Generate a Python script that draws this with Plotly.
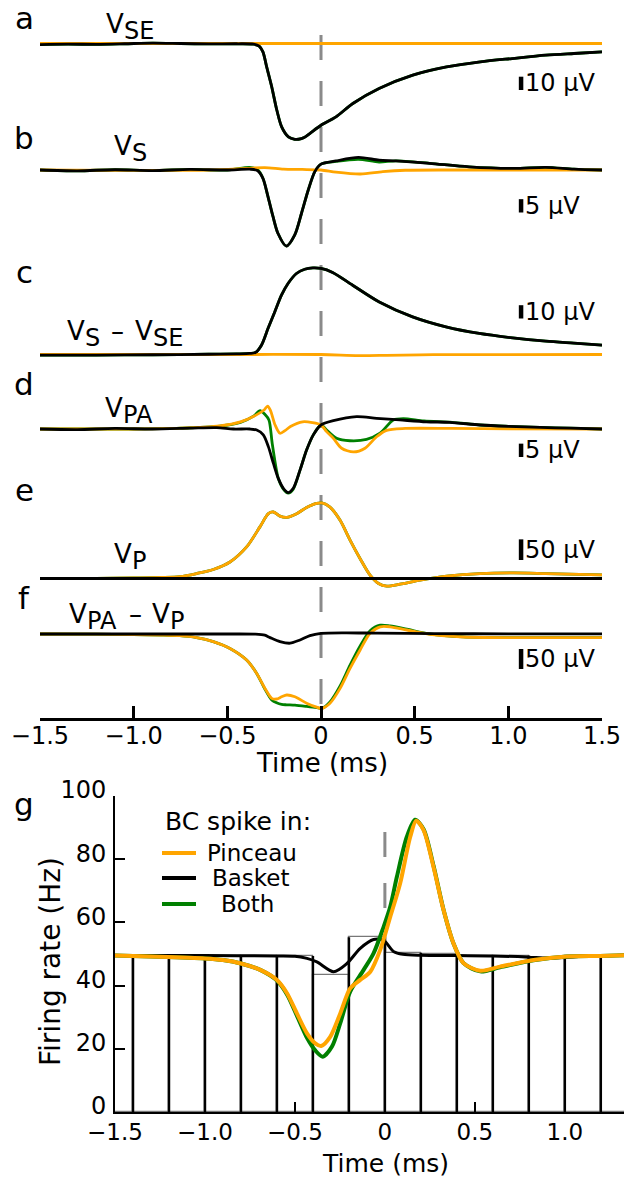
import plotly.graph_objects as go

# ---------------- DATA ----------------
# Panel a : V_SE (µV)
A_T_BASKET = [-1.5, -1.35, -1.2, -1.05, -0.9, -0.75, -0.6, -0.45, -0.36, -0.33, -0.31, -0.29, -0.263, -0.236,
              -0.21, -0.174, -0.14, -0.12, -0.09, -0.06, 0.0, 0.08, 0.17, 0.31, 0.49, 0.67, 0.85, 1.02, 1.2, 1.35, 1.5]
A_BASKET = [-0.8, -0.5, -0.6, -0.2, 0.3, 0.0, -0.3, -0.2, -0.5, -2.0, -6.3, -17.6, -32.6, -50.0,
            -62.7, -70.2, -72.0, -72.0, -70.7, -67.7, -61.5, -55.2, -45.1, -33.8, -23.8, -17.6, -13.8, -11.3, -8.8, -7.5, -6.3]
A_T_PINCEAU = [-1.5, 1.5]
A_PINCEAU = [0.0, 0.0]

# Panel b : V_S (µV)
B_T_BASKET = [-1.5, -1.3, -1.1, -0.9, -0.7, -0.5, -0.38, -0.34, -0.31, -0.283, -0.256, -0.23, -0.185, -0.14,
              -0.104, -0.068, -0.033, 0.0, 0.08, 0.2, 0.31, 0.4, 0.58, 0.79, 1.03, 1.2, 1.35, 1.5]
B_BASKET = [0.0, -0.3, 0.1, -0.2, 0.2, 0.0, 0.3, -0.2, -3.1, -10.0, -17.5, -23.7, -28.5, -24.3,
            -16.2, -7.5, -0.6, 2.2, 3.4, 4.7, 3.7, 3.4, 2.5, 1.2, 0.6, 1.0, 0.3, 0.0]
B_BOTH = [0.0, -0.3, 0.1, -0.2, 0.2, 0.0, 1.0, 0.2, -3.1, -10.0, -17.5, -23.7, -28.5, -24.3,
          -16.2, -7.5, -0.6, 2.2, 3.2, 4.0, 3.0, 3.4, 2.5, 1.2, 0.6, 1.0, 0.3, 0.0]
B_T_PINCEAU = [-1.5, -0.6, -0.4, -0.3, -0.2, -0.1, 0.0, 0.08, 0.21, 0.33, 0.45, 0.7, 1.5]
B_PINCEAU = [0.0, 0.0, 0.6, 0.9, 0.3, 0.2, 0.0, -0.8, -1.5, -0.6, -0.1, 0.0, 0.0]

# Panel c : V_S - V_SE (µV)
C_T_BASKET = [-1.5, -1.2, -0.9, -0.6, -0.45, -0.38, -0.35, -0.318, -0.283, -0.247, -0.211, -0.176, -0.131,
              -0.087, -0.043, 0.0, 0.062, 0.169, 0.311, 0.489, 0.667, 0.845, 1.023, 1.2, 1.35, 1.5]
C_BASKET = [-0.5, -0.4, -0.2, 0.2, 0.5, 0.8, 1.5, 7.0, 19.5, 32.0, 44.6, 53.4, 60.9,
            64.1, 65.1, 64.7, 61.7, 52.1, 39.5, 28.3, 20.8, 15.8, 12.5, 10.0, 8.5, 7.0]
C_T_PINCEAU = [-1.5, -0.4, 0.0, 0.2, 0.35, 0.6, 1.5]
C_PINCEAU = [0.0, 0.0, 0.0, -0.8, -0.6, -0.1, 0.0]

# Panel d : V_PA (µV)
D_T_BASKET = [-1.5, -1.3, -1.1, -0.9, -0.7, -0.557, -0.468, -0.379, -0.343, -0.308, -0.281, -0.254, -0.228,
              -0.201, -0.175, -0.148, -0.112, -0.077, -0.041, 0.0, 0.066, 0.19, 0.297, 0.42, 0.562, 0.687,
              0.85, 1.0, 1.17, 1.33, 1.5]
D_BASKET = [0.0, -0.2, 0.2, 0.0, 0.3, 0.5, 0.0, 0.0, -0.4, -2.2, -6.6, -12.9, -18.5,
            -22.2, -23.8, -22.2, -15.4, -7.9, -2.2, 1.5, 3.1, 4.6, 4.0, 3.4, 2.7, 2.5,
            1.5, 1.0, 0.6, 0.3, 0.0]
D_T_PINCEAU = [-1.5, -1.0, -0.75, -0.54, -0.43, -0.347, -0.304, -0.285, -0.27, -0.245, -0.219, -0.19, -0.163,
               -0.098, -0.046, 0.0, 0.03, 0.066, 0.11, 0.173, 0.235, 0.297, 0.35, 0.45, 0.7, 1.0, 1.5]
D_PINCEAU = [0.0, 0.0, 0.3, 1.2, 2.7, 5.2, 7.1, 8.6, 7.0, 1.5, -1.6, -0.5, 0.9,
             2.7, 2.4, 1.5, -1.0, -3.5, -7.2, -8.6, -7.2, -2.9, -0.5, 0.2, 0.2, 0.1, 0.0]
D_T_BOTH = [-1.5, -1.0, -0.75, -0.54, -0.43, -0.36, -0.325, -0.3, -0.278, -0.26, -0.228, -0.201, -0.175,
            -0.148, -0.112, -0.077, -0.041, 0.0, 0.03, 0.083, 0.154, 0.243, 0.315, 0.386, 0.44, 0.55,
            0.7, 0.85, 1.0, 1.17, 1.33, 1.5]
D_BOTH = [0.0, 0.0, 0.3, 1.1, 2.5, 4.8, 6.9, 5.5, 3.4, -5.6, -18.5, -22.5, -24.0,
          -22.5, -15.4, -7.9, -2.2, 1.5, -0.4, -3.5, -4.4, -3.9, -1.6, 3.4, 3.9, 3.0,
          2.5, 1.5, 1.0, 0.6, 0.3, 0.0]

# Panel e : V_P (µV)
E_T_PINCEAU = [-1.5, -1.2, -1.0, -0.85, -0.753, -0.664, -0.575, -0.486, -0.397, -0.326, -0.281, -0.254,
               -0.219, -0.183, -0.13, -0.077, -0.023, 0.004, 0.048, 0.102, 0.155, 0.209, 0.262, 0.307,
               0.351, 0.422, 0.529, 0.671, 0.849, 1.03, 1.2, 1.5]
E_PINCEAU = [0.0, 0.5, 1.5, 2.5, 4.5, 12.0, 21.8, 40.0, 76.5, 125.0, 157.0, 161.0,
             151.0, 148.0, 157.0, 172.0, 182.0, 183.0, 173.0, 141.0, 93.0, 48.0, 8.0, -12.0,
             -18.6, -13.8, -4.0, 5.6, 12.0, 13.6, 12.0, 8.7]
E_T_BASKET = [-1.5, 1.5]
E_BASKET = [0.0, 0.0]

# Panel f : V_PA - V_P (µV)
F_T_BASKET = [-1.5, -0.5, -0.35, -0.3, -0.272, -0.219, -0.165, -0.112, -0.059, 0.0, 0.133, 0.3, 0.6, 1.0, 1.5]
F_BASKET = [0.0, 0.0, -0.5, -3.0, -9.0, -19.0, -23.0, -15.0, -4.0, 1.7, 3.0, 2.0, 1.0, 0.5, 0.5]
F_T_PINCEAU = [-1.5, -1.2, -1.0, -0.85, -0.753, -0.664, -0.575, -0.486, -0.397, -0.344, -0.299, -0.263,
               -0.237, -0.21, -0.183, -0.139, -0.077, -0.023, 0.004, 0.048, 0.102, 0.155, 0.209, 0.262,
               0.316, 0.369, 0.458, 0.582, 0.76, 1.026, 1.5]
F_PINCEAU = [0.0, -0.5, -1.5, -2.5, -4.2, -9.0, -19.0, -36.0, -65.0, -98.0, -136.0, -161.0,
             -162.5, -157.0, -152.5, -157.0, -173.0, -183.0, -186.0, -173.0, -136.0, -86.0, -40.0, 2.0,
             18.0, 18.0, 10.0, -1.0, -7.5, -9.0, -9.0]
F_BOTH = [0.0, -0.5, -1.5, -2.5, -4.2, -9.0, -19.0, -36.0, -65.0, -98.0, -138.0, -165.0,
          -172.0, -176.0, -177.0, -178.0, -181.0, -184.0, -186.0, -170.0, -130.0, -78.0, -30.0, 8.0,
          22.0, 20.0, 12.0, 0.0, -7.0, -9.0, -9.0]

# Panel g : firing rate (Hz)
G_T_PINCEAU = [-1.5, -1.3, -1.0, -0.9, -0.8, -0.69, -0.6, -0.544, -0.489, -0.433, -0.387, -0.354, -0.304,
               -0.248, -0.193, -0.137, -0.081, -0.026, 0.03, 0.085, 0.141, 0.174, 0.215, 0.27, 0.326,
               0.381, 0.437, 0.53, 0.64, 0.826, 1.011, 1.196, 1.33]
G_PINCEAU = [49.5, 49.2, 48.6, 48.1, 47.0, 44.9, 41.8, 37.6, 31.2, 24.9, 21.7, 20.9, 23.8,
             31.2, 39.1, 41.8, 44.4, 51.3, 61.8, 72.4, 87.1, 92.2, 89.2, 77.6, 63.9,
             53.4, 47.1, 44.7, 46.0, 48.1, 49.2, 49.4, 49.6]
G_T_BOTH = [-1.5, -1.3, -1.0, -0.9, -0.8, -0.69, -0.6, -0.544, -0.489, -0.433, -0.387, -0.345, -0.294,
            -0.248, -0.193, -0.119, -0.063, -0.007, 0.03, 0.067, 0.122, 0.168, 0.215, 0.27, 0.326,
            0.381, 0.437, 0.53, 0.64, 0.826, 1.011, 1.196, 1.33]
G_BOTH = [49.5, 49.2, 48.6, 48.1, 47.0, 44.9, 41.6, 37.2, 30.5, 23.5, 19.5, 17.5, 20.7,
          28.1, 38.1, 44.9, 50.2, 58.6, 65.0, 74.5, 87.1, 92.5, 89.5, 78.0, 64.0,
          53.4, 47.1, 44.5, 45.8, 48.0, 49.2, 49.4, 49.6]
G_T_BASKET = [-1.5, -1.0, -0.6, -0.5, -0.433, -0.378, -0.285, -0.211, -0.137, -0.063, -0.007, 0.05, 0.1,
              0.2, 0.4, 0.6, 0.8, 0.9, 1.0, 1.1, 1.33]
G_BASKET = [49.5, 49.5, 49.4, 49.3, 48.6, 47.5, 44.4, 47.0, 51.8, 54.6, 54.3, 50.7, 49.9,
            49.6, 49.5, 49.4, 49.0, 48.7, 48.9, 49.3, 49.6]
HIST_CENTERS = [-1.5, -1.3, -1.1, -0.9, -0.7, -0.5, -0.3, -0.1, 0.1, 0.3, 0.5, 0.7, 0.9, 1.1, 1.3]
HIST_RATES = [49.4, 49.4, 49.4, 49.4, 49.4, 49.4, 43.5, 55.3, 50.4, 49.9, 49.4, 49.5, 48.6, 49.3, 49.5]
HIST_WIDTH = 0.2

TIME_TICKS = [-1.5, -1.0, -0.5, 0, 0.5, 1.0, 1.5]
TIME_TICKTEXT = ["\u22121.5", "\u22121.0", "\u22120.5", "0", "0.5", "1.0", "1.5"]
RATE_TICKS = [0, 20, 40, 60, 80, 100]
LEGEND_NAMES = ["Pinceau", "Basket", "Both"]
SCALE_BARS = [10, 5, 10, 5, 50, 50]          # µV
SCALE_TEXT = ["10 \u00b5V", "5 \u00b5V", "10 \u00b5V", "5 \u00b5V", "50 \u00b5V", "50 \u00b5V"]

# ---------------- STYLE / LAYOUT ----------------
W, H = 624, 1177
ORANGE = "#FFA500"
GREEN = "#008000"
BLACK = "#000000"
FONT = "DejaVu Sans"


def px(x):
    return x / W


def py(y):
    return 1 - y / H


TOP_T, TOP_B = 10, 718          # pixel extent of upper plot area
# baseline pixel and px per µV for each panel a..f
PANEL_BASE = [43.5, 170.0, 354.5, 429.0, 578.5, 634.0]
PANEL_SCALE = [1.33, 2.67, 1.33, 2.67, 0.413, 0.40]
# scale bar bottom pixel
BAR_BOTTOM = [90.0, 212.5, 318.5, 457.0, 560.0, 669.0]
BAR_T = 1.068

fig = go.Figure()
yax = ["y", "y2", "y3", "y4", "y5", "y6"]


def add_line(t, v, color, width, ya, xa="x", shape="spline"):
    fig.add_trace(go.Scatter(x=t, y=v, mode="lines", xaxis=xa, yaxis=ya,
                             line=dict(color=color, width=width, shape=shape, smoothing=0.8),
                             hoverinfo="skip", showlegend=False))


panels = [
    (A_T_BASKET, A_BASKET, A_T_PINCEAU, A_PINCEAU, A_T_BASKET, A_BASKET),
    (B_T_BASKET, B_BASKET, B_T_PINCEAU, B_PINCEAU, B_T_BASKET, B_BOTH),
    (C_T_BASKET, C_BASKET, C_T_PINCEAU, C_PINCEAU, C_T_BASKET, C_BASKET),
    (D_T_BASKET, D_BASKET, D_T_PINCEAU, D_PINCEAU, D_T_BOTH, D_BOTH),
    (E_T_BASKET, E_BASKET, E_T_PINCEAU, E_PINCEAU, E_T_PINCEAU, E_PINCEAU),
    (F_T_BASKET, F_BASKET, F_T_PINCEAU, F_PINCEAU, F_T_PINCEAU, F_BOTH),
]

for i, (tb, vb, tp, vp, tg, vg) in enumerate(panels):
    ya = yax[i]
    add_line(tg, vg, GREEN, 2.8, ya)
    add_line(tp, vp, ORANGE, 2.8, ya)
    add_line(tb, vb, BLACK, 2.8, ya)
    # scale bar
    b0 = (PANEL_BASE[i] - BAR_BOTTOM[i]) / PANEL_SCALE[i]
    fig.add_trace(go.Scatter(x=[BAR_T, BAR_T], y=[b0, b0 + SCALE_BARS[i]], mode="lines",
                             xaxis="x", yaxis=ya, line=dict(color=BLACK, width=4.5),
                             hoverinfo="skip", showlegend=False))
    fig.add_annotation(x=BAR_T + 0.012, y=b0 + SCALE_BARS[i] / 2, xref="x", yref=ya,
                       text=SCALE_TEXT[i], showarrow=False, xanchor="left", yanchor="middle",
                       font=dict(size=24, color=BLACK, family=FONT))

# panel g : histogram (thin grey tops, thick black bin edges)
fig.add_trace(go.Bar(x=HIST_CENTERS, y=HIST_RATES, width=HIST_WIDTH, xaxis="x2", yaxis="y7",
                     marker=dict(color="white", line=dict(color="#777777", width=1.2)),
                     hoverinfo="skip", showlegend=False))
edge_x, edge_y = [], []
for k in range(len(HIST_CENTERS) - 1):
    e = (HIST_CENTERS[k] + HIST_CENTERS[k + 1]) / 2
    edge_x += [e, e, None]
    edge_y += [0, max(HIST_RATES[k], HIST_RATES[k + 1]), None]
fig.add_trace(go.Scatter(x=edge_x, y=edge_y, mode="lines", xaxis="x2", yaxis="y7",
                         line=dict(color=BLACK, width=2.5), hoverinfo="skip", showlegend=False))
add_line(G_T_BASKET, G_BASKET, BLACK, 3, "y7", "x2")
add_line(G_T_BOTH, G_BOTH, GREEN, 4, "y7", "x2")
add_line(G_T_PINCEAU, G_PINCEAU, ORANGE, 4, "y7", "x2")

axis_common = dict(showgrid=False, zeroline=False, automargin=False)
layout = dict(
    width=W, height=H, margin=dict(l=0, r=0, t=0, b=0, autoexpand=False), autosize=False,
    paper_bgcolor="white", plot_bgcolor="rgba(0,0,0,0)",
    font=dict(family=FONT, color=BLACK, size=23),
    barmode="overlay", bargap=0,
    xaxis=dict(domain=[px(40), px(602)], range=[-1.5, 1.5], anchor="y",
               showline=True, linecolor=BLACK, linewidth=3,
               ticks="inside", ticklen=12, tickwidth=3, tickcolor=BLACK,
               tickvals=TIME_TICKS, ticktext=TIME_TICKTEXT, ticklabelstandoff=-6,
               tickfont=dict(size=24, family=FONT), **axis_common),
    xaxis2=dict(domain=[px(115), 1.0], range=[-1.5, 1.329], anchor="y7",
                showline=True, linecolor=BLACK, linewidth=2,
                ticks="inside", ticklen=10, tickwidth=2, tickcolor=BLACK,
                tickvals=TIME_TICKS[:-1], ticktext=TIME_TICKTEXT[:-1], ticklabelstandoff=-2,
                tickfont=dict(size=23, family=FONT), **axis_common),
    yaxis7=dict(domain=[py(1112), py(796)], range=[0, 100], anchor="x2",
                showline=True, linecolor=BLACK, linewidth=2,
                ticks="inside", ticklen=10, tickwidth=2, tickcolor=BLACK,
                tickvals=RATE_TICKS, ticklabelshift=-6, ticklabelstandoff=2,
                tickfont=dict(size=24, family=FONT), **axis_common),
)
for i, ya in enumerate(yax):
    key = "yaxis" if i == 0 else "yaxis%d" % (i + 1)
    lo = (PANEL_BASE[i] - TOP_B) / PANEL_SCALE[i]
    hi = (PANEL_BASE[i] - TOP_T) / PANEL_SCALE[i]
    d = dict(range=[lo, hi], visible=False, anchor="x", **axis_common)
    if i == 0:
        d["domain"] = [py(TOP_B), py(TOP_T)]
    else:
        d["overlaying"] = "y"
    layout[key] = d
fig.update_layout(**layout)

# dashed t=0 lines
fig.add_shape(type="line", xref="x", yref="paper", x0=0, x1=0, y0=py(704), y1=py(22),
              line=dict(color="#8a8a8a", width=3, dash="25px,21px"), layer="below")
fig.add_shape(type="line", xref="x2", yref="y7", x0=0, x1=0, y0=0, y1=91.5,
              line=dict(color="#8a8a8a", width=3, dash="25px,26px"), layer="below")


def ann(x, y, text, size=24, xanchor="center", yanchor="middle", angle=0):
    fig.add_annotation(x=px(x), y=py(y), xref="paper", yref="paper", text=text, showarrow=False,
                       xanchor=xanchor, yanchor=yanchor, textangle=angle, borderpad=0,
                       font=dict(size=size, color=BLACK, family=FONT))


# panel letters
for letter, yy in zip("abcdefg", [18, 138, 272, 384, 490, 598, 804]):
    ann(24, yy, letter, size=31)

# trace labels: (x_left, y_center, text, is_subscript)
LABEL_PIECES = [
    [(105, 24, "V", False), (123, 31, "SE", True)],
    [(113, 146, "V", False), (131, 153, "S", True)],
    [(66, 331, "V", False), (84, 338, "S", True), (110, 331, "\u2013", False),
     (134, 331, "V", False), (152, 338, "SE", True)],
    [(104, 408, "V", False), (122, 415, "PA", True)],
    [(113, 554, "V", False), (131, 561, "P", True)],
    [(68, 614, "V", False), (86, 621, "PA", True), (128, 614, "\u2013", False),
     (151, 614, "V", False), (169, 621, "P", True)],
]
for pieces in LABEL_PIECES:
    for (x, y, t, sub) in pieces:
        ann(x, y, t, size=24 if sub else 26, xanchor="left")

# axis titles
ann(322, 763, "Time (ms)", size=26)
ann(385, 1163, "Time (ms)", size=25)
ann(50, 962, "Firing rate (Hz)", size=28, angle=-90)

# legend
ann(238, 821, "BC spike in:", size=25)
LEG_Y = [853, 878, 904]
LEG_COL = [ORANGE, BLACK, GREEN]
LEG_TX = [252, 251, 248]
for name, yy, col, tx in zip(LEGEND_NAMES, LEG_Y, LEG_COL, LEG_TX):
    fig.add_shape(type="line", xref="paper", yref="paper", x0=px(162), x1=px(196), y0=py(yy), y1=py(yy),
                  line=dict(color=col, width=4))
    ann(tx, yy, name, size=23)

fig.write_html("out.html")
